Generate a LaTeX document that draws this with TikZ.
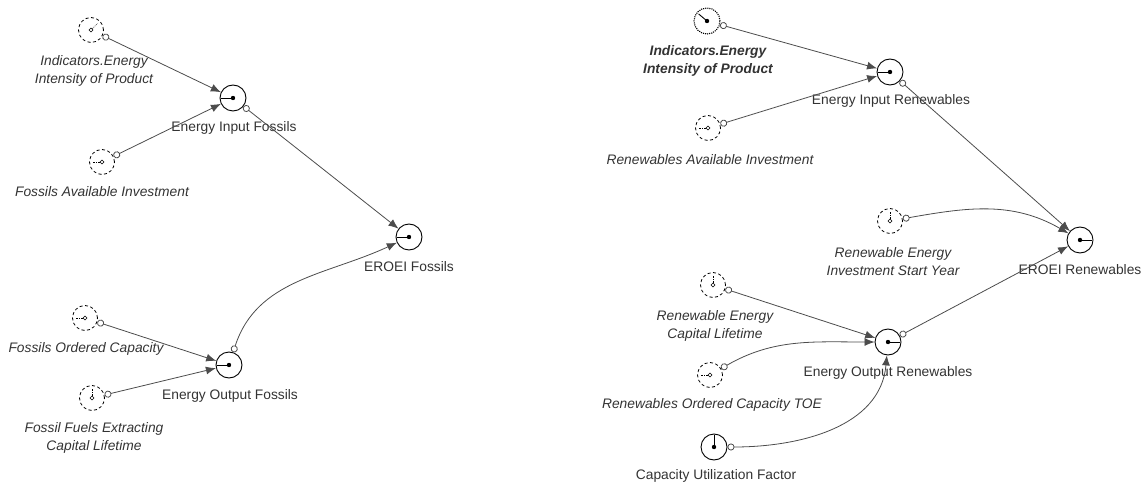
\documentclass[tikz,border=0pt]{standalone}
\usepackage{fontspec}
\setmainfont{Liberation Sans}
\usetikzlibrary{arrows.meta}
\newcommand\ghostmark[2]{%
  \draw[line width=0.6pt] (#1.center) ++(0,-2pt) -- ++(2pt,2pt) -- ++(-2pt,2pt) -- ++(-2pt,-2pt) -- cycle;
  \draw[densely dotted,line width=0.7pt] (#1.center) ++(#2:2pt) -- ++(#2:7pt);}
\newcommand\auxmark[2]{%
  \fill (#1.center) circle (2.2pt);
  \draw[line width=0.9pt] (#1.center) -- ++(#2:12pt);}
\begin{document}
\begin{tikzpicture}[x=1pt,y=-1pt,
  aux/.style={circle,draw=black,line width=0.9pt,minimum size=26pt,inner sep=0pt},
  ghost/.style={circle,draw=black,dash pattern=on 3pt off 2.5pt,line width=0.8pt,minimum size=25pt,inner sep=0pt},
  gear/.style={circle,draw=black,densely dotted,line width=1.1pt,minimum size=26pt,inner sep=0pt},
  lbl/.style={font=\fontsize{13.8}{18}\selectfont,text=black!80,align=center,inner sep=0pt},
  ilbl/.style={font=\fontsize{13.8}{18}\selectfont\itshape,text=black!80,align=center,inner sep=0pt},
  blbl/.style={font=\fontsize{13.8}{18}\selectfont\bfseries\itshape,text=black!80,align=center,inner sep=0pt},
  link/.style={draw=black!70,line width=0.8pt,{Circle[open,length=7pt,width=7pt]}-{Latex[length=10pt,width=8pt]}},
]
\useasboundingbox (0,0) rectangle (1147,486);

% ---------- left model ----------
\node[ghost] (lind) at (91,30) {};
\node[aux] (eif) at (233,98) {};
\node[ghost] (fai) at (102,162) {};
\node[aux] (erf) at (409,237) {};
\node[ghost] (foc) at (85,318) {};
\node[aux] (eof) at (229,365) {};
\node[ghost] (ffe) at (92,398) {};

\ghostmark{lind}{45}
\ghostmark{fai}{180}
\ghostmark{foc}{180}
\ghostmark{ffe}{90}
\auxmark{eif}{180}
\auxmark{erf}{180}
\auxmark{eof}{180}

\node[ilbl] (lindl) at (94,71) {Indicators.Energy\\Intensity of Product};
\node[lbl] (eifl) at (234,128) {Energy Input Fossils};
\node[ilbl] (fail) at (102,192) {Fossils Available Investment};
\node[lbl] (erfl) at (409,267) {EROEI Fossils};
\node[ilbl] (focl) at (86,349) {Fossils Ordered Capacity};
\node[lbl] (eofl) at (230,396) {Energy Output Fossils};
\node[ilbl] (ffel) at (94,438) {Fossil Fuels Extracting\\Capital Lifetime};

\draw[link] (lind) -- (eif);
\draw[link] (fai) -- (eif);
\draw[link] (eif) -- (erf);
\draw[link] (foc) -- (eof);
\draw[link] (ffe) -- (eof);
\draw[link] (eof) to[out=72,in=205] (erf);

% ---------- right model ----------
\node[gear] (rind) at (707,21) {};
\node[aux] (eir) at (890,72) {};
\node[ghost] (rai) at (708,128) {};
\node[ghost] (reisy) at (890,221) {};
\node[aux] (err) at (1080,240) {};
\node[ghost] (recl) at (713,285) {};
\node[aux] (eor) at (888,342) {};
\node[ghost] (roc) at (710,375) {};
\node[aux] (cuf) at (714,447) {};

\fill (rind.center) circle (2.2pt);
\draw[line width=0.9pt] (rind.center) -- ++(140:11pt);
\ghostmark{rai}{180}
\ghostmark{reisy}{90}
\ghostmark{recl}{90}
\ghostmark{roc}{180}
\auxmark{eir}{180}
\auxmark{err}{0}
\auxmark{eor}{0}
\auxmark{cuf}{90}

\node[blbl] (rindl) at (708,61) {Indicators.Energy\\Intensity of Product};
\node[lbl] (eirl) at (891,101) {Energy Input Renewables};
\node[ilbl] (rail) at (710,160) {Renewables Available Investment};
\node[ilbl] (reisyl) at (893,262) {Renewable Energy\\Investment Start Year};
\node[lbl] (errl) at (1080,270) {EROEI Renewables};
\node[ilbl] (recll) at (715,326) {Renewable Energy\\Capital Lifetime};
\node[lbl] (eorl) at (888,373) {Energy Output Renewables};
\node[ilbl] (rocl) at (712,405) {Renewables Ordered Capacity TOE};
\node[lbl] (cufl) at (716,476) {Capacity Utilization Factor};

\draw[link] (rind) -- (eir);
\draw[link] (rai) -- (eir);
\draw[link] (eir) -- (err);
\draw[link] (reisy) to[out=10,in=150] (err);
\draw[link] (eor) -- (err);
\draw[link] (recl) -- (eor);
\draw[link] (roc) to[out=30,in=180] (eor);
\draw[link] (cuf) to[out=0,in=-95] (eor);
\end{tikzpicture}
\end{document}
